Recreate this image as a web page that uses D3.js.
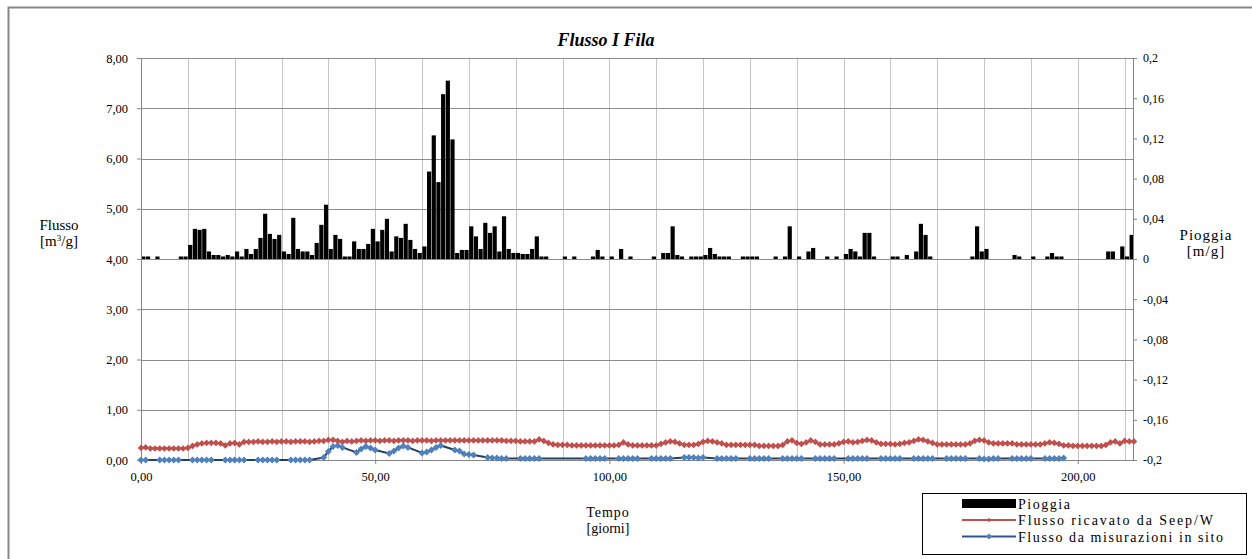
<!DOCTYPE html>
<html>
<head>
<meta charset="utf-8">
<script src="https://cdnjs.cloudflare.com/ajax/libs/d3/7.8.5/d3.min.js"></script>
<style>
  body { margin: 0; background: #fff; }
</style>
</head>
<body>
<div id="chart"></div>
<script>
// Pioggia [m/g], one value per day starting at day 0
const rain = [
  0.0025,0.0025,0,0.0025,0,0,0,0,0.0025,0.0025,
  0.014,0.030,0.029,0.030,0.0075,0.004,0.004,0.0025,0.004,0.0025,
  0.0075,0.0025,0.010,0.005,0.010,0.021,0.045,0.025,0.020,0.024,
  0.0075,0.005,0.041,0.010,0.0075,0.0075,0.004,0.016,0.034,0.054,
  0.010,0.024,0.020,0.0025,0.0025,0.0175,0.010,0.010,0.015,0.030,
  0.0175,0.029,0.040,0.0075,0.0225,0.021,0.035,0.019,0.010,0.006,
  0.0125,0.087,0.123,0.0765,0.164,0.1775,0.119,0.006,0.009,0.009,
  0.0325,0.0225,0.010,0.036,0.026,0.0325,0.0075,0.0425,0.010,0.006,
  0.006,0.005,0.005,0.010,0.0225,0.0025,0.0025,0,0,0,
  0.0025,0,0.0025,0,0,0,0.0025,0.009,0.0025,0,
  0.0025,0,0.010,0,0.0025,0,0,0,0,0.0025,
  0,0.006,0.006,0.0325,0.004,0.0025,0,0.0025,0.0025,0.0025,
  0.004,0.011,0.005,0.0025,0.0025,0.0025,0,0,0.0025,0.0025,
  0.0025,0.0025,0,0,0,0.0025,0,0.0025,0.0325,0,
  0.0025,0,0.0075,0.011,0,0,0.0025,0,0.0025,0,
  0.005,0.010,0.0075,0.0025,0.026,0.026,0.0025,0,0,0,
  0.0025,0.0025,0,0.004,0,0.0075,0.035,0.024,0.0025,0,
  0,0,0,0,0,0,0,0.0025,0.0325,0.0075,
  0.010,0,0,0,0,0,0.004,0.0025,0,0,
  0.0025,0,0,0.0025,0.006,0.0025,0.0025,0,0,0,
  0,0,0,0,0,0,0.0075,0.0075,0,0.0125,
  0.0025,0.024
];

// Flusso ricavato da Seep/W [m3/g], one value per day starting at day 0
const seepFlow = [
  0.24,0.25,0.23,0.23,0.23,0.23,0.23,0.23,0.23,0.23,
  0.24,0.28,0.31,0.33,0.34,0.34,0.34,0.33,0.29,0.33,
  0.34,0.31,0.36,0.36,0.36,0.37,0.36,0.36,0.37,0.36,
  0.37,0.37,0.36,0.37,0.37,0.37,0.36,0.37,0.38,0.38,
  0.40,0.40,0.38,0.36,0.38,0.37,0.38,0.39,0.38,0.39,
  0.39,0.38,0.39,0.39,0.38,0.39,0.39,0.39,0.38,0.39,
  0.39,0.39,0.38,0.39,0.39,0.39,0.39,0.39,0.39,0.39,
  0.39,0.39,0.39,0.39,0.39,0.39,0.39,0.39,0.38,0.38,
  0.38,0.37,0.37,0.37,0.37,0.41,0.38,0.34,0.31,0.30,
  0.30,0.30,0.29,0.29,0.29,0.29,0.29,0.29,0.29,0.29,
  0.29,0.29,0.30,0.35,0.31,0.29,0.29,0.29,0.29,0.29,
  0.29,0.32,0.35,0.37,0.36,0.33,0.30,0.30,0.30,0.32,
  0.36,0.38,0.37,0.35,0.33,0.30,0.30,0.30,0.30,0.30,
  0.30,0.30,0.28,0.28,0.28,0.28,0.28,0.30,0.37,0.39,
  0.34,0.32,0.35,0.39,0.36,0.31,0.31,0.31,0.31,0.33,
  0.36,0.37,0.35,0.36,0.38,0.40,0.39,0.35,0.32,0.32,
  0.32,0.31,0.32,0.34,0.35,0.38,0.41,0.40,0.37,0.34,
  0.31,0.31,0.31,0.31,0.31,0.31,0.31,0.33,0.38,0.40,
  0.39,0.35,0.33,0.33,0.33,0.33,0.33,0.31,0.31,0.31,
  0.31,0.31,0.31,0.33,0.35,0.34,0.32,0.29,0.29,0.28,
  0.28,0.28,0.28,0.28,0.28,0.28,0.30,0.35,0.37,0.33,
  0.38,0.37,0.37
];

// Flusso da misurazioni in sito: measured days and values [m3/g]
const siteDays = [
  0,1, 4,5,6,7,8, 11,12,13,14,15, 18,19,20,21,22, 25,26,27,28,29, 32,33,34,35,36,
  39,40,41,42,43, 46,47,48,49,50, 53,54,55,56,57, 60,61,62,63,64, 67,68,69,70,71,
  74,75,76,77,78, 81,82,83,84,85,
  95,96,97,98,99, 102,103,104,105,106, 109,110,111,112,113, 116,117,118,119,120,
  123,124,125,126,127, 130,131,132,133,134, 137,138,139,140,141, 144,145,146,147,148,
  151,152,153,154,155, 158,159,160,161,162, 165,166,167,168,169, 172,173,174,175,176,
  179,180,181,182,183, 186,187,188,189,190, 193,194,195,196,197
];
const siteFlow = [
  0,0, 0,0,0,0,0, 0,0,0,0,0, 0,0,0,0,0, 0,0,0,0,0, 0,0,0,0,0,
  0.05,0.17,0.27,0.29,0.25, 0.15,0.22,0.27,0.24,0.20, 0.13,0.18,0.24,0.28,0.25,
  0.14,0.16,0.20,0.25,0.29, 0.20,0.18,0.12,0.11,0.10,
  0.05,0.04,0.04,0.03,0.03, 0.03,0.03,0.03,0.03,0.03,
  0.03,0.03,0.03,0.03,0.03, 0.03,0.03,0.03,0.03,0.03, 0.03,0.03,0.03,0.03,0.03, 0.05,0.05,0.05,0.04,0.05,
  0.03,0.03,0.03,0.03,0.03, 0.03,0.03,0.03,0.03,0.03, 0.03,0.03,0.03,0.03,0.03, 0.03,0.03,0.03,0.03,0.03,
  0.03,0.03,0.03,0.03,0.03, 0.03,0.03,0.03,0.03,0.03, 0.03,0.03,0.03,0.03,0.03, 0.03,0.03,0.03,0.03,0.03,
  0.03,0.02,0.02,0.03,0.03, 0.03,0.03,0.03,0.03,0.03, 0.03,0.03,0.03,0.03,0.04
];

// Tick values and labels
const flowTicks = [0, 1, 2, 3, 4, 5, 6, 7, 8];
const rainTicks = [-0.2, -0.16, -0.12, -0.08, -0.04, 0, 0.04, 0.08, 0.12, 0.16, 0.2];
const rainTickLabels = ["-0,2", "-0,16", "-0,12", "-0,08", "-0,04", "0", "0,04", "0,08", "0,12", "0,16", "0,2"];
const timeTicks = [0, 50, 100, 150, 200];
const timeGrid = [10, 20, 30, 40, 50, 60, 70, 80, 90, 100, 110, 120, 130, 140, 150, 160, 170, 180, 190, 200, 210];

const SERIF = '"Liberation Serif", "DejaVu Serif", serif';
const W = 1252, H = 559;
const plot = { left: 141, right: 1133, top: 58, bottom: 460 };

const svg = d3.select("#chart").append("svg")
    .attr("width", W)
    .attr("height", H)
    .style("font-family", SERIF);

// outer chart border (right and bottom edges fall outside the picture)
svg.append("rect")
    .attr("x", 8.5).attr("y", 7.5)
    .attr("width", W + 20).attr("height", H + 20)
    .attr("fill", "#fff")
    .attr("stroke", "#868686")
    .attr("stroke-width", 2);

const x = d3.scaleLinear().domain([0, 211.8]).range([plot.left, plot.right]);
const yFlow = d3.scaleLinear().domain([0, 8]).range([plot.bottom, plot.top]);
const yRain = d3.scaleLinear().domain([-0.2, 0.2]).range([plot.bottom, plot.top]);

const comma = v => d3.format(".2f")(v).replace(".", ",");

// Gridlines
svg.append("g")
    .selectAll("line")
    .data(timeGrid)
    .join("line")
    .attr("x1", d => Math.round(x(d)) + 0.5)
    .attr("x2", d => Math.round(x(d)) + 0.5)
    .attr("y1", plot.top)
    .attr("y2", plot.bottom)
    .attr("stroke", "#c4c4c4")
    .attr("stroke-width", 1);

svg.append("g")
    .selectAll("line")
    .data(flowTicks.filter(d => d > 0))
    .join("line")
    .attr("x1", plot.left)
    .attr("x2", plot.right)
    .attr("y1", d => Math.round(yFlow(d)) + 0.5)
    .attr("y2", d => Math.round(yFlow(d)) + 0.5)
    .attr("stroke", "#8c8c8c")
    .attr("stroke-width", 1);

// Rain bars (right axis)
const dayWidth = x(1) - x(0);
svg.append("g")
    .selectAll("rect")
    .data(rain.map((v, i) => ({ day: i, value: v })).filter(d => d.value > 0))
    .join("rect")
    .attr("x", d => x(d.day) + 0.3)
    .attr("width", dayWidth - 0.5)
    .attr("y", d => yRain(d.value))
    .attr("height", d => yRain(0) - yRain(d.value))
    .attr("fill", "#000");

// Axes
function styleAxis(g) {
    g.attr("font-family", null);
    g.select(".domain").attr("stroke", "#868686");
    g.selectAll(".tick line").attr("stroke", "#868686");
    g.selectAll("text").style("font-family", SERIF).attr("fill", "#000");
}

svg.append("g")
    .attr("transform", `translate(${plot.left},0)`)
    .call(d3.axisLeft(yFlow).tickValues(flowTicks).tickFormat(comma).tickSize(4).tickSizeOuter(0).tickPadding(9))
    .call(styleAxis)
    .selectAll("text").attr("font-size", 12.5);

svg.append("g")
    .attr("transform", `translate(0,${plot.bottom})`)
    .call(d3.axisBottom(x).tickValues(timeTicks).tickFormat(comma).tickSize(4).tickSizeOuter(0).tickPadding(8))
    .call(styleAxis)
    .selectAll("text").attr("font-size", 12.5);

svg.append("g")
    .attr("transform", `translate(${plot.right},0)`)
    .call(d3.axisRight(yRain).tickValues(rainTicks).tickFormat((d, i) => rainTickLabels[i]).tickSize(4).tickSizeOuter(0).tickPadding(6))
    .call(styleAxis)
    .selectAll("text").attr("font-size", 12);

// Lines
const diamond = d3.symbol().type(d3.symbolSquare);

const seepData = seepFlow.map((v, i) => ({ day: i, value: v }));
const siteData = d3.zip(siteDays, siteFlow).map(([d, v]) => ({ day: d, value: v }));

const line = d3.line().x(d => x(d.day)).y(d => yFlow(d.value));

svg.append("path")
    .datum(seepData)
    .attr("d", line)
    .attr("fill", "none")
    .attr("stroke", "#c0504d")
    .attr("stroke-width", 2.2);

svg.append("g")
    .selectAll("path")
    .data(seepData)
    .join("path")
    .attr("d", diamond.size(22))
    .attr("transform", d => `translate(${x(d.day)},${yFlow(d.value)}) rotate(45)`)
    .attr("fill", "#c0504d");

svg.append("path")
    .datum(siteData)
    .attr("d", line)
    .attr("fill", "none")
    .attr("stroke", "#243f60")
    .attr("stroke-width", 2);

svg.append("g")
    .selectAll("path")
    .data(siteData)
    .join("path")
    .attr("d", diamond.size(24))
    .attr("transform", d => `translate(${x(d.day)},${yFlow(d.value)}) rotate(45)`)
    .attr("fill", "#4f81bd");

// Title and axis titles
svg.append("text")
    .attr("x", 606).attr("y", 46)
    .attr("text-anchor", "middle")
    .attr("font-size", 18)
    .attr("font-weight", "bold")
    .attr("font-style", "italic")
    .text("Flusso I Fila");

const leftTitle = svg.append("text")
    .attr("text-anchor", "middle")
    .attr("font-size", 15);
leftTitle.append("tspan").attr("x", 59).attr("y", 230).text("Flusso");
const unit = leftTitle.append("tspan").attr("x", 59).attr("y", 246).text("[m");
unit.append("tspan").attr("font-size", 9).attr("dy", -5).text("3");
unit.append("tspan").attr("dy", 5).text("/g]");

const rightTitle = svg.append("text")
    .attr("text-anchor", "middle")
    .attr("font-size", 15);
rightTitle.append("tspan").attr("x", 1206).attr("y", 240).attr("letter-spacing", 1).text("Pioggia");
rightTitle.append("tspan").attr("x", 1206).attr("y", 256).attr("letter-spacing", 1).text("[m/g]");

const xTitle = svg.append("text")
    .attr("text-anchor", "middle")
    .attr("font-size", 14);
xTitle.append("tspan").attr("x", 608).attr("y", 517).attr("letter-spacing", 1).text("Tempo");
xTitle.append("tspan").attr("x", 608).attr("y", 533).text("[giorni]");

// Legend
const legend = svg.append("g");
legend.append("rect")
    .attr("x", 922.5).attr("y", 493.5)
    .attr("width", 324).attr("height", 61)
    .attr("fill", "#fff")
    .attr("stroke", "#000");

const legendItems = [
    { label: "Pioggia", type: "bar", len: 52 },
    { label: "Flusso ricavato da Seep/W", type: "seep", len: 195 },
    { label: "Flusso da misurazioni in sito", type: "site", len: 205 }
];

legendItems.forEach((item, i) => {
    const cy = 503.5 + i * 16.5;
    if (item.type === "bar") {
        legend.append("rect")
            .attr("x", 962).attr("y", cy - 4.5)
            .attr("width", 54).attr("height", 9)
            .attr("fill", "#000");
    } else {
        const col = item.type === "seep" ? "#c0504d" : "#2c5592";
        const mcol = item.type === "seep" ? "#c0504d" : "#4f81bd";
        legend.append("line")
            .attr("x1", 962).attr("x2", 1016)
            .attr("y1", cy).attr("y2", cy)
            .attr("stroke", col).attr("stroke-width", 2);
        legend.append("path")
            .attr("d", diamond.size(item.type === "seep" ? 10 : 18))
            .attr("transform", `translate(989,${cy}) rotate(45)`)
            .attr("fill", mcol);
    }
    legend.append("text")
        .attr("x", 1018).attr("y", cy + 5)
        .attr("font-size", 14)
        .attr("textLength", item.len)
        .attr("lengthAdjust", "spacing")
        .text(item.label);
});
</script>
</body>
</html>
